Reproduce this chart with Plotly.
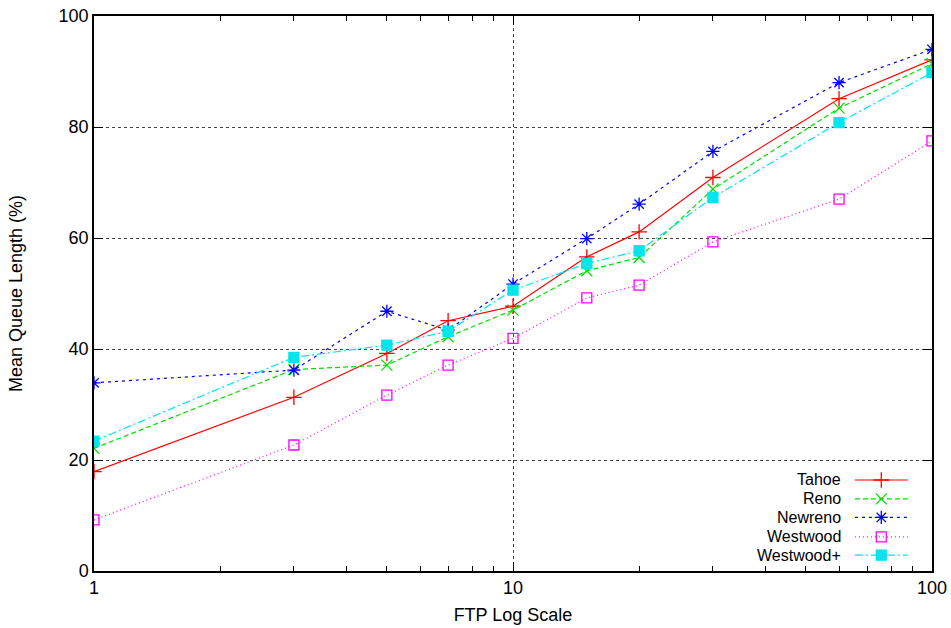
import plotly.graph_objects as go

ftp = [1, 3, 5, 7, 10, 15, 20, 30, 60, 100]
tahoe = [17.9, 31.3, 39.2, 45.1, 47.7, 56.6, 61.1, 70.9, 85.1, 92.1]
reno = [22.1, 36.3, 37.1, 42.2, 47.0, 54.1, 56.5, 68.8, 83.4, 91.4]
newreno = [33.9, 36.2, 46.8, 43.4, 51.7, 59.9, 66.1, 75.6, 88.0, 94.0]
westwood = [9.2, 22.7, 31.7, 37.1, 41.9, 49.2, 51.5, 59.3, 67.0, 77.5]
westwood_plus = [23.4, 38.5, 40.7, 43.2, 50.6, 55.4, 57.7, 67.3, 80.8, 89.8]

names = ["Tahoe", "Reno", "Newreno", "Westwood", "Westwood+"]
series = [tahoe, reno, newreno, westwood, westwood_plus]
colors = ["#ff0000", "#00e000", "#0000ff", "#ff00ff", "#00e5ee"]
dashes = ["solid", "5px,3px", "3px,4px", "1px,3px", "8px,3px,2px,3px"]
symbols = ["cross-thin-open", "x-thin-open", "asterisk-open", "square-open", "square"]
msizes = [11, 11, 11, 10, 10]

x_ticks = [1, 10, 100]
x_minor = [2, 3, 4, 5, 6, 7, 8, 9, 20, 30, 40, 50, 60, 70, 80, 90]
y_ticks = [0, 20, 40, 60, 80, 100]

FONT = "Liberation Sans, Arial, sans-serif"

fig = go.Figure()
for n, s, c, d, sym, ms in zip(names, series, colors, dashes, symbols, msizes):
    fig.add_trace(go.Scatter(
        x=ftp, y=s, mode="lines+markers", name=n, showlegend=False,
        line=dict(color=c, width=1.2, dash=d),
        marker=dict(symbol=sym, size=ms, color=c, line=dict(color=c, width=1.3)),
    ))

# custom gnuplot-style legend (text left, sample right)
leg_rows = [0.164, 0.130, 0.0965, 0.0615, 0.0285]
for n, c, d, sym, ms, ry in zip(names, colors, dashes, symbols, msizes, leg_rows):
    fig.add_trace(go.Scatter(
        x=[0.908, 0.971], y=[ry, ry], xaxis="x2", yaxis="y2", mode="lines",
        line=dict(color=c, width=1.2, dash=d), showlegend=False, hoverinfo="skip"))
    fig.add_trace(go.Scatter(
        x=[0.9395], y=[ry], xaxis="x2", yaxis="y2", mode="markers",
        marker=dict(symbol=sym, size=ms, color=c, line=dict(color=c, width=1.3)),
        showlegend=False, hoverinfo="skip"))
    fig.add_annotation(x=0.893, y=ry, xref="x2", yref="y2", text=n, showarrow=False,
                       xanchor="right", yanchor="middle", borderpad=0,
                       font=dict(family=FONT, size=16, color="black"))

fig.update_layout(
    width=951, height=628,
    margin=dict(l=94, r=19, t=16, b=57),
    paper_bgcolor="white", plot_bgcolor="white",
    font=dict(family=FONT, size=17, color="black"),
    xaxis=dict(
        type="log", range=[0, 2], tickvals=x_ticks, ticktext=[str(v) for v in x_ticks],
        ticks="inside", ticklen=9, tickcolor="black", mirror="allticks",
        showline=True, linecolor="black", linewidth=1.5, automargin=False,
        ticklabeloverflow="allow",
        showgrid=True, gridcolor="#444444", griddash="dot", gridwidth=1,
        zeroline=False,
        minor=dict(tickvals=x_minor, ticks="inside", ticklen=5, tickcolor="black", showgrid=False),
        title=dict(text="FTP Log Scale", font=dict(size=18), standoff=11),
        tickfont=dict(size=18),
    ),
    yaxis=dict(
        range=[0, 100], tickvals=y_ticks,
        ticks="inside", ticklen=9, tickcolor="black", mirror="allticks",
        showline=True, linecolor="black", linewidth=1.5, automargin=False,
        ticklabeloverflow="allow",
        showgrid=True, gridcolor="#444444", griddash="dot", gridwidth=1,
        zeroline=False,
        title=dict(text="Mean Queue Length (%)", font=dict(size=18), standoff=31),
        tickfont=dict(size=18),
    ),
    xaxis2=dict(overlaying="x", range=[0, 1], visible=False, fixedrange=True),
    yaxis2=dict(overlaying="y", range=[0, 1], visible=False, fixedrange=True),
)

fig.write_html(
    "out.html",
    config={"displayModeBar": False},
    post_script="document.body.style.margin='0';document.body.style.overflow='hidden';",
)
